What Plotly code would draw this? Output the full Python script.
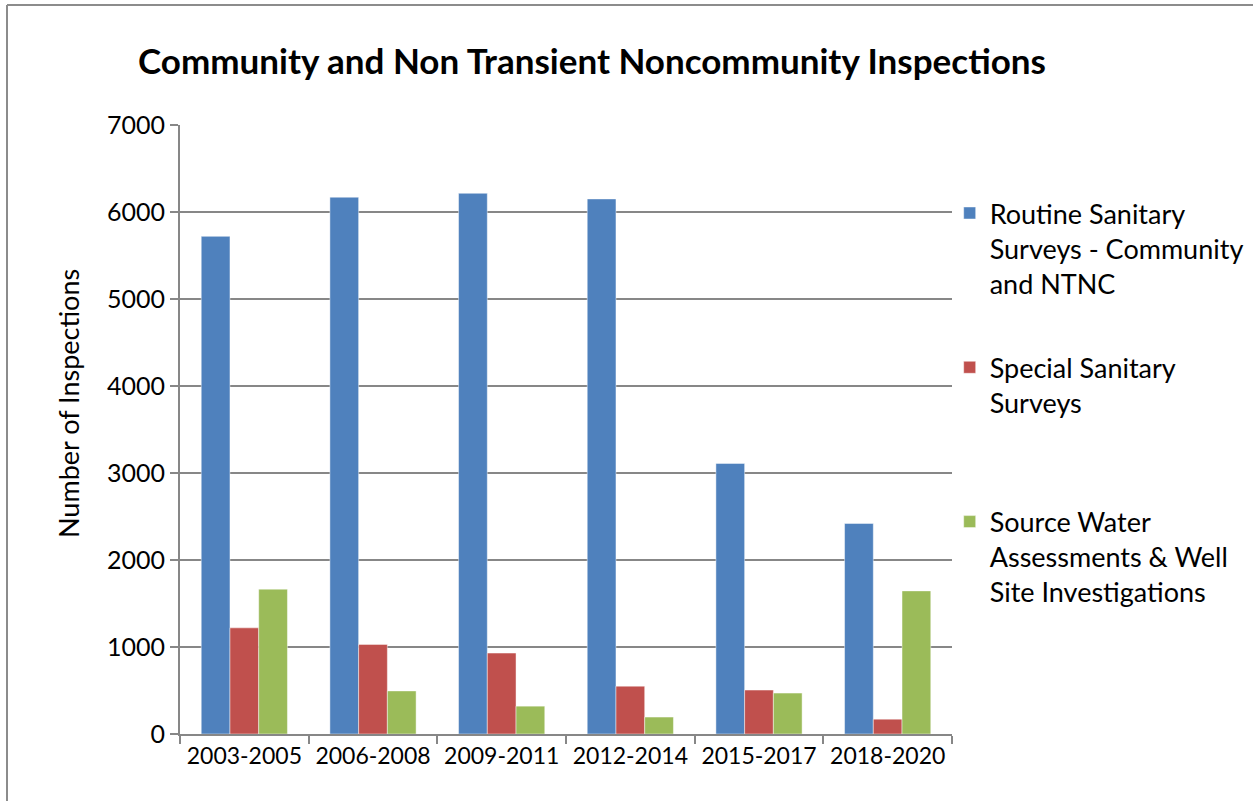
import plotly.graph_objects as go

PERIODOS = ["2003-2005", "2006-2008", "2009-2011", "2012-2014", "2015-2017", "2018-2020"]
ROTINA = [5720, 6170, 6215, 6150, 3110, 2420]
ESPECIAL = [1220, 1030, 930, 550, 505, 170]
FONTE_AGUA = [1665, 495, 320, 195, 470, 1645]

NOMES = [
    "Routine Sanitary<br>Surveys - Community<br>and NTNC",
    "Special Sanitary<br>Surveys<br> ",
    "Source Water<br>Assessments & Well<br>Site Investigations",
]
CORES = ["#4F81BD", "#C0504D", "#9BBB59"]

FONTE = "Lato, Open Sans, sans-serif"
CINZA = "#878787"

fig = go.Figure()
for i, (nome, valores, cor) in enumerate(zip(NOMES, [ROTINA, ESPECIAL, FONTE_AGUA], CORES)):
    fig.add_trace(
        go.Bar(
            x=PERIODOS,
            y=valores,
            name=nome,
            legendgroup=f"g{i}",
            marker=dict(color=cor, line=dict(color="rgba(255,255,255,0.45)", width=1)),
        )
    )

fig.update_layout(
    width=1253,
    height=801,
    paper_bgcolor="white",
    plot_bgcolor="white",
    barmode="group",
    bargap=0.33,
    bargroupgap=0,
    font=dict(family=FONTE, color="black", size=24),
    margin=dict(l=180, r=301, t=125, b=67, autoexpand=False),
    title=dict(
        text="<b>Community and Non Transient Noncommunity Inspections</b>",
        x=592 / 1253,
        xanchor="center",
        y=1 - 62 / 801,
        yanchor="middle",
        font=dict(family=FONTE, size=35, color="black"),
    ),
    legend=dict(
        x=0.997,
        xanchor="left",
        y=0.895,
        yanchor="top",
        font=dict(family=FONTE, size=27, color="black"),
        tracegroupgap=46,
        valign="top",
        bgcolor="rgba(0,0,0,0)",
        itemwidth=30,
    ),
    showlegend=True,
)

fig.update_xaxes(
    showline=True,
    linecolor=CINZA,
    linewidth=2,
    ticks="outside",
    tickson="boundaries",
    ticklen=8,
    tickcolor=CINZA,
    tickwidth=2,
    tickfont=dict(family=FONTE, size=23, color="black"),
    showgrid=False,
)
fig.update_yaxes(
    range=[0, 7000],
    dtick=1000,
    showline=True,
    linecolor=CINZA,
    linewidth=2,
    ticks="outside",
    ticklen=8,
    tickcolor=CINZA,
    tickwidth=2,
    showgrid=True,
    gridcolor=CINZA,
    gridwidth=2,
    zeroline=False,
    tickfont=dict(family=FONTE, size=25, color="black"),
)

fig.add_annotation(
    text="Number of Inspections",
    xref="paper",
    yref="paper",
    x=-(180 - 68) / 772,
    y=(734 - 404) / 609,
    xanchor="center",
    yanchor="middle",
    textangle=-90,
    showarrow=False,
    font=dict(family=FONTE, size=27, color="black"),
)

# moldura do gráfico (borda superior e esquerda)
fig.add_shape(type="line", xref="paper", yref="paper",
              x0=-(180 - 7) / 772, x1=(1253 - 180) / 772, y0=(734 - 5) / 609, y1=(734 - 5) / 609,
              line=dict(color="#8c8c8c", width=2))
fig.add_shape(type="line", xref="paper", yref="paper",
              x0=-(180 - 7) / 772, x1=-(180 - 7) / 772, y0=(734 - 5) / 609, y1=-(801 - 734) / 609,
              line=dict(color="#8c8c8c", width=2))

fig.write_html(
    "out.html",
    config={"displayModeBar": False},
    post_script="document.body.style.margin='0px';",
)
